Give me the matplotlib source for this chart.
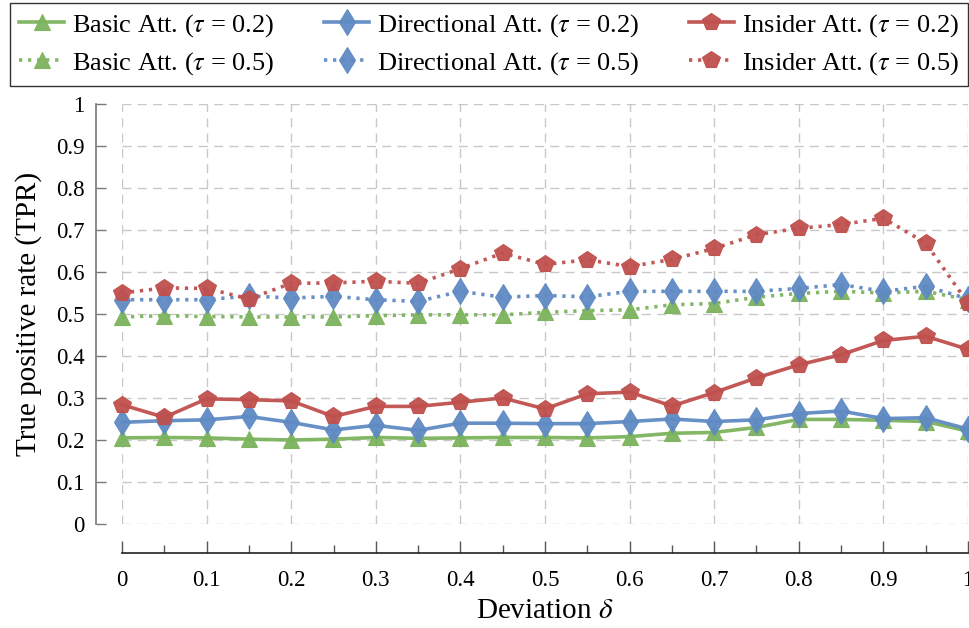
import matplotlib
matplotlib.use("Agg")
import matplotlib.pyplot as plt
from matplotlib.ticker import MultipleLocator

plt.rcParams['font.family'] = ['Liberation Serif', 'DejaVu Serif']
plt.rcParams['mathtext.fontset'] = 'stix'

# deviation values
delta = [0.0, 0.05, 0.1, 0.15, 0.2, 0.25, 0.3, 0.35, 0.4, 0.45, 0.5,
         0.55, 0.6, 0.65, 0.7, 0.75, 0.8, 0.85, 0.9, 0.95, 1.0]

basic_02 = [0.205, 0.206, 0.205, 0.202, 0.200, 0.202, 0.206, 0.204, 0.205, 0.206, 0.206,
            0.205, 0.208, 0.216, 0.218, 0.230, 0.249, 0.249, 0.247, 0.244, 0.221]
direct_02 = [0.242, 0.246, 0.248, 0.256, 0.242, 0.224, 0.235, 0.223, 0.240, 0.240, 0.239,
             0.239, 0.244, 0.250, 0.244, 0.248, 0.263, 0.269, 0.251, 0.253, 0.226]
insider_02 = [0.284, 0.254, 0.298, 0.296, 0.293, 0.256, 0.280, 0.280, 0.290, 0.300, 0.274,
              0.310, 0.314, 0.281, 0.313, 0.348, 0.379, 0.403, 0.437, 0.447, 0.416]

basic_05 = [0.493, 0.496, 0.494, 0.493, 0.493, 0.493, 0.496, 0.498, 0.498, 0.498, 0.504,
            0.508, 0.510, 0.522, 0.525, 0.540, 0.549, 0.554, 0.550, 0.554, 0.534]
direct_05 = [0.534, 0.534, 0.534, 0.543, 0.538, 0.542, 0.534, 0.530, 0.554, 0.540, 0.544,
             0.541, 0.554, 0.554, 0.554, 0.554, 0.561, 0.570, 0.554, 0.566, 0.536]
insider_05 = [0.550, 0.562, 0.561, 0.536, 0.573, 0.574, 0.578, 0.573, 0.608, 0.645, 0.618,
              0.629, 0.613, 0.630, 0.656, 0.689, 0.704, 0.713, 0.728, 0.669, 0.526]

tick_labels = ['0', '0.1', '0.2', '0.3', '0.4', '0.5', '0.6', '0.7', '0.8', '0.9', '1']

green = '#7cb35d'
blue = '#5f8ac3'
red = '#c0504d'

fig = plt.figure(figsize=(9.7, 6.28), dpi=100)
ax = fig.add_axes([122/970, 104/628, 846/970, 420/628])

dotted = (0, (0.9, 1.6))
series = [
    (basic_02, green, '^', 12, '-', r'Basic Att. ($\tau$ = 0.2)'),
    (basic_05, green, '^', 12, dotted, r'Basic Att. ($\tau$ = 0.5)'),
    (direct_02, blue, 'd', 13, '-', r'Directional Att. ($\tau$ = 0.2)'),
    (direct_05, blue, 'd', 13, dotted, r'Directional Att. ($\tau$ = 0.5)'),
    (insider_02, red, 'p', 13, '-', r'Insider Att. ($\tau$ = 0.2)'),
    (insider_05, red, 'p', 13, dotted, r'Insider Att. ($\tau$ = 0.5)'),
]
for vals, c, m, ms, ls, lab in series:
    ax.plot(delta, vals, color=c, linestyle=ls, linewidth=2.6, marker=m,
            markersize=ms, markerfacecolor=c, markeredgecolor=c,
            markeredgewidth=0.8, alpha=0.95, label=lab, clip_on=False, zorder=3)

ax.set_xlim(0, 1)
ax.set_ylim(0, 1)
ax.xaxis.set_minor_locator(MultipleLocator(0.05))
ax.set_xticks([i / 10 for i in range(11)])
ax.set_xticklabels(tick_labels)
ax.set_yticks([i / 10 for i in range(11)])
ax.set_yticklabels(tick_labels)

ax.grid(True, which='major', color='#c8c8c8', linestyle=(0, (6.5, 4.5)), linewidth=1.0)

for s in ['top', 'right']:
    ax.spines[s].set_visible(False)
ax.spines['left'].set_position(('outward', 19))
ax.spines['bottom'].set_position(('outward', 21))
ax.spines['left'].set_bounds(0, 1)
ax.spines['bottom'].set_bounds(0, 1)
ax.spines['left'].set_color('#777777')
ax.spines['left'].set_linewidth(1.2)
ax.spines['bottom'].set_color('#222222')
ax.spines['bottom'].set_linewidth(1.2)

ax.tick_params(axis='y', direction='in', length=7, width=1, color='#777777',
               labelsize=16.5, pad=8)
ax.tick_params(axis='x', which='major', direction='in', length=9, width=1,
               color='#555555', labelsize=16.5, pad=12)
ax.tick_params(axis='x', which='minor', direction='in', length=6, width=1,
               color='#555555')

ax.set_xlabel(r'Deviation $\delta$', fontsize=21, labelpad=5)
ax.set_ylabel('True positive rate (TPR)', fontsize=21, labelpad=10)

leg = fig.legend(loc='upper left', bbox_to_anchor=(10/970, 0, 958/970, 0.996),
                 mode='expand', ncol=3,
                 fontsize=19, frameon=True, fancybox=False, edgecolor='black',
                 handlelength=1.7, handletextpad=0.3, columnspacing=0.4,
                 borderpad=0.35, labelspacing=0.42, borderaxespad=0)
leg.get_frame().set_linewidth(1.0)

fig.savefig('out.png', dpi=100)
